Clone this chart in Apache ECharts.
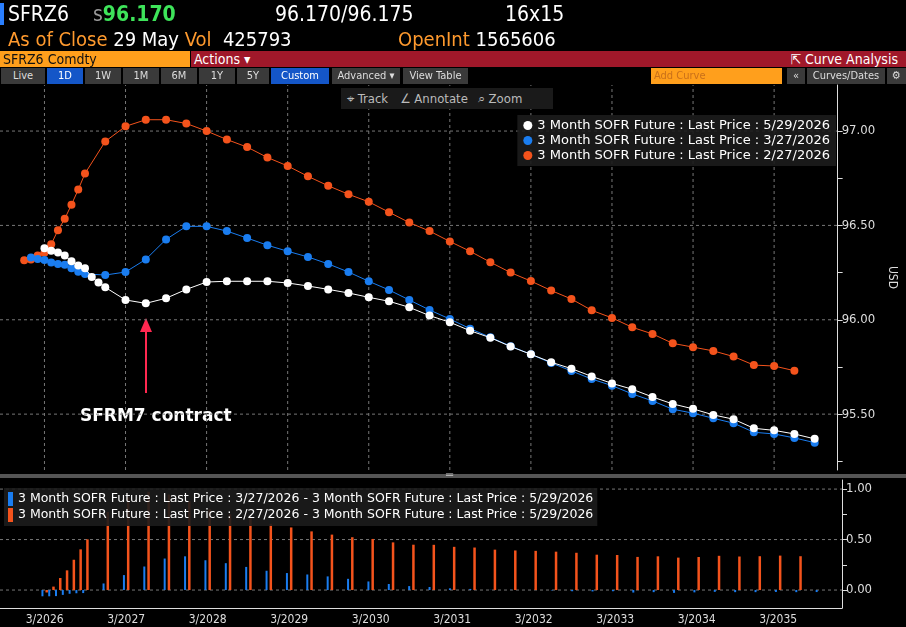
<!DOCTYPE html>
<html>
<head>
<meta charset="utf-8">
<script src="https://cdn.jsdelivr.net/npm/echarts@6/dist/echarts.min.js"></script>
<style>
  body { margin: 0; background: #000; font-family: "DejaVu Sans Condensed", "Liberation Sans Narrow", sans-serif; }
  #wrap { position: relative; width: 906px; height: 627px; overflow: hidden; }
  #chart { position: absolute; left: 0; top: 0; width: 906px; height: 627px; }
  .abs { position: absolute; white-space: nowrap; }
  .row1 { top: 2px; font-size: 21px; color: #fff; }
  .row2 { top: 27px; font-size: 20px; color: #fff; }
  .org { color: #ff9a2e; }
  .btn { position: absolute; top: 68px; height: 16px; background: #3a3a3a; color: #ddd; font-size: 11px; line-height: 16px; text-align: center; }
  .btn.on { background: #1456c8; color: #fff; }
  #tools { position: absolute; left: 341px; top: 88px; width: 212px; height: 21px; background: #1a1a1a; color: #bbb; font-size: 13px; line-height: 21px; }
</style>
</head>
<body>
<div id="wrap">
  <div id="chart"></div>

  <div class="abs" style="left:0;top:3px;width:4px;height:22px;background:#2a7fff"></div>
  <div class="abs row1" style="left:8px">SFRZ6</div>
  <div class="abs row1" style="left:93px;color:#999">s<b style="color:#3ee45a">96.170</b></div>
  <div class="abs row1" style="left:275px">96.170/96.175</div>
  <div class="abs row1" style="left:505px">16x15</div>
  <div class="abs row2" style="left:8px"><span class="org">As of Close</span> 29 May <span class="org">Vol</span>&nbsp; 425793</div>
  <div class="abs row2" style="left:398px"><span class="org">OpenInt</span> 1565606</div>

  <div class="abs" style="left:0;top:51px;width:190px;height:16px;background:#ff9f1c;color:#111;font-size:14px;line-height:16px;padding-left:3px;box-sizing:border-box">SFRZ6 Comdty</div>
  <div class="abs" style="left:191px;top:51px;width:715px;height:16px;background:#a0182a;color:#fff;font-size:14px;line-height:16px">
    <span style="margin-left:3px">Actions ▾</span>
    <span style="position:absolute;right:8px">⇱ Curve Analysis</span>
  </div>

  <div class="btn" style="left:1px;width:44px">Live</div>
  <div class="btn on" style="left:47px;width:36px">1D</div>
  <div class="btn" style="left:85px;width:36px">1W</div>
  <div class="btn" style="left:123px;width:36px">1M</div>
  <div class="btn" style="left:161px;width:36px">6M</div>
  <div class="btn" style="left:199px;width:36px">1Y</div>
  <div class="btn" style="left:237px;width:32px">5Y</div>
  <div class="btn on" style="left:271px;width:58px">Custom</div>
  <div class="btn" style="left:332px;width:68px">Advanced ▾</div>
  <div class="btn" style="left:403px;width:65px">View Table</div>
  <div class="btn" style="left:651px;width:131px;background:#ff9f1c;color:#c9701a;text-align:left;padding-left:3px;box-sizing:border-box">Add Curve</div>
  <div class="btn" style="left:787px;width:18px">«</div>
  <div class="btn" style="left:807px;width:78px">Curves/Dates</div>
  <div class="btn" style="left:887px;width:19px">⚙</div>

  <div id="tools"><span style="margin-left:6px">⌖ Track</span><span style="margin-left:12px">∠ Annotate</span><span style="margin-left:10px">⌕ Zoom</span></div>
</div>
<script>
// x values are months after 3/2026 (contract positions on the curve)
const orangeX = [-3, -2, -1, 0, 1, 2, 3, 4, 5, 6, 9, 12, 15, 18, 21, 24, 27, 30, 33, 36, 39, 42, 45, 48, 51, 54, 57, 60, 63, 66, 69, 72, 75, 78, 81, 84, 87, 90, 93, 96, 99, 102, 105, 108, 111];
const orangeY = [96.315, 96.32, 96.34, 96.355, 96.40, 96.475, 96.535, 96.61, 96.69, 96.775, 96.945, 97.025, 97.06, 97.06, 97.04, 97.0, 96.955, 96.915, 96.86, 96.815, 96.76, 96.71, 96.665, 96.625, 96.57, 96.515, 96.47, 96.415, 96.363, 96.305, 96.25, 96.205, 96.155, 96.11, 96.05, 96.01, 95.96, 95.925, 95.875, 95.855, 95.835, 95.805, 95.76, 95.755, 95.73];
const blueX = [-2, -1, 0, 1, 2, 3, 4, 5, 6, 9, 12, 15, 18, 21, 24, 27, 30, 33, 36, 39, 42, 45, 48, 51, 54, 57, 60, 63, 66, 69, 72, 75, 78, 81, 84, 87, 90, 93, 96, 99, 102, 105, 108, 111, 114];
const blueY = [96.33, 96.322, 96.317, 96.304, 96.296, 96.292, 96.273, 96.255, 96.243, 96.237, 96.253, 96.32, 96.426, 96.495, 96.495, 96.47, 96.433, 96.395, 96.363, 96.333, 96.296, 96.253, 96.204, 96.158, 96.105, 96.052, 96.004, 95.953, 95.907, 95.86, 95.817, 95.771, 95.729, 95.686, 95.651, 95.607, 95.57, 95.526, 95.505, 95.478, 95.452, 95.404, 95.395, 95.374, 95.349];
const whiteX = [0, 1, 2, 3, 4, 5, 6, 7, 8, 9, 12, 15, 18, 21, 24, 27, 30, 33, 36, 39, 42, 45, 48, 51, 54, 57, 60, 63, 66, 69, 72, 75, 78, 81, 84, 87, 90, 93, 96, 99, 102, 105, 108, 111, 114];
const whiteY = [96.379, 96.366, 96.356, 96.34, 96.31, 96.287, 96.273, 96.227, 96.197, 96.172, 96.105, 96.087, 96.114, 96.161, 96.2, 96.204, 96.204, 96.204, 96.195, 96.179, 96.161, 96.142, 96.119, 96.098, 96.066, 96.022, 95.987, 95.942, 95.905, 95.858, 95.817, 95.775, 95.741, 95.70, 95.663, 95.632, 95.591, 95.554, 95.528, 95.496, 95.473, 95.425, 95.414, 95.395, 95.369];

const yearTicks = [0, 12, 24, 36, 48, 60, 72, 84, 96, 108];
const priceLabels = [95.5, 96.0, 96.5, 97.0];
const priceTicks = [95.25, 95.5, 95.75, 96.0, 96.25, 96.5, 96.75, 97.0];
const diffLabels = [0, 0.5, 1.0];
const diffTicks = [0, 0.25, 0.5, 0.75, 1.0];

const legendMain = [
  "3 Month SOFR Future : Last Price : 5/29/2026",
  "3 Month SOFR Future : Last Price : 3/27/2026",
  "3 Month SOFR Future : Last Price : 2/27/2026"
];
const legendDiff = [
  "3 Month SOFR Future : Last Price : 3/27/2026 - 3 Month SOFR Future : Last Price : 5/29/2026",
  "3 Month SOFR Future : Last Price : 2/27/2026 - 3 Month SOFR Future : Last Price : 5/29/2026"
];

const WHITE = "#ffffff";
const BLUE = "#1a7df0";
const ORANGE = "#f4531c";
const GRIDLINE = { color: "#777777", type: [3, 3], width: 1, opacity: 1 };

function pairs(xs, ys) {
  return xs.map((x, i) => [x, ys[i]]);
}

// difference vs the 5/29 curve where both curves have a contract
function diffPairs(xs, ys) {
  const out = [];
  xs.forEach((x, i) => {
    const j = whiteX.indexOf(x);
    if (j >= 0) out.push([x, +(ys[i] - whiteY[j]).toFixed(3)]);
  });
  return out;
}

const font = "DejaVu Sans Condensed";
const legendFont = "DejaVu Sans";
const chart = echarts.init(document.getElementById("chart"));

// dashed grid lines as line series of two-point segments (null breaks them)
function hGrid(values, lo, hi) {
  const out = [];
  values.forEach((v) => { out.push([lo, v], [hi, v], null); });
  return out;
}
function vGrid(values, lo, hi) {
  const out = [];
  values.forEach((v) => { out.push([v, lo], [v, hi], null); });
  return out;
}
function gridSeries(data, xi, yi) {
  return {
    type: "line", xAxisIndex: xi, yAxisIndex: yi, data: data,
    symbol: "none", silent: true, connectNulls: false,
    lineStyle: GRIDLINE, z: 1, tooltip: { show: false }
  };
}

const X_MIN = -6.58, X_MAX = 117.4;
const Y_MIN = 95.204, Y_MAX = 97.244;

chart.setOption({
  backgroundColor: "#000",
  animation: false,
  textStyle: { fontFamily: font },
  grid: [
    { left: 0, right: 64, top: 85, height: 385 },
    { left: 0, right: 64, top: 480, height: 128 }
  ],
  xAxis: [
    {
      type: "value", gridIndex: 0, min: X_MIN, max: X_MAX,
      axisLine: { show: false }, axisTick: { show: false }, axisLabel: { show: false }, splitLine: { show: false }
    },
    {
      type: "value", gridIndex: 1, min: X_MIN, max: X_MAX,
      axisLine: { show: true, onZero: false, lineStyle: { color: "#ddd" } },
      axisTick: { show: false },
      splitLine: { show: false },
      axisLabel: {
        customValues: yearTicks,
        color: "#ddd",
        fontSize: 12,
        margin: 6,
        formatter: (v) => "3/" + (2026 + Math.round(v / 12))
      }
    }
  ],
  yAxis: [
    {
      type: "value", gridIndex: 0, position: "right",
      min: Y_MIN, max: Y_MAX,
      name: "USD", nameLocation: "middle", nameGap: 46, nameRotate: -90,
      nameTextStyle: { color: "#ddd", fontSize: 12 },
      axisLine: { show: true, onZero: false, lineStyle: { color: "#ddd" } },
      axisTick: { show: true, customValues: priceTicks, length: 5, lineStyle: { color: "#ddd" } },
      axisLabel: { customValues: priceLabels, color: "#ddd", fontSize: 13, margin: 4, formatter: (v) => v.toFixed(2) },
      splitLine: { show: false }
    },
    {
      type: "value", gridIndex: 1, position: "right",
      min: -0.178, max: 1.09,
      axisLine: { show: true, onZero: false, lineStyle: { color: "#ddd" } },
      axisTick: { show: true, customValues: diffTicks, length: 5, lineStyle: { color: "#ddd" } },
      axisLabel: { customValues: diffLabels, color: "#ddd", fontSize: 13, margin: 4, formatter: (v) => v.toFixed(2) },
      splitLine: { show: false }
    }
  ],
  legend: [
    {
      data: legendMain,
      orient: "vertical",
      right: 70, top: 115,
      icon: "circle", itemWidth: 9, itemHeight: 9, itemGap: 2,
      padding: [4, 6],
      backgroundColor: "rgba(28,28,28,0.9)",
      textStyle: { color: "#fff", fontSize: 13, fontFamily: legendFont },
      selectedMode: false
    },
    {
      data: legendDiff,
      orient: "vertical",
      left: 4, top: 488,
      icon: "rect", itemWidth: 5, itemHeight: 14, itemGap: 2,
      padding: [4, 4],
      backgroundColor: "rgba(28,28,28,0.9)",
      textStyle: { color: "#fff", fontSize: 12.5, fontFamily: legendFont },
      selectedMode: false
    }
  ],
  series: [
    gridSeries(vGrid(yearTicks, Y_MIN, Y_MAX), 0, 0),
    gridSeries(hGrid(priceLabels, X_MIN, X_MAX), 0, 0),
    gridSeries(hGrid(diffLabels, X_MIN, X_MAX), 1, 1),
    {
      name: legendMain[2], type: "line", xAxisIndex: 0, yAxisIndex: 0,
      data: pairs(orangeX, orangeY), color: ORANGE,
      symbol: "circle", symbolSize: 8, lineStyle: { width: 1 },
      z: 3
    },
    {
      name: legendMain[1], type: "line", xAxisIndex: 0, yAxisIndex: 0,
      data: pairs(blueX, blueY), color: BLUE,
      symbol: "circle", symbolSize: 8, lineStyle: { width: 1 },
      z: 4
    },
    {
      name: legendMain[0], type: "line", xAxisIndex: 0, yAxisIndex: 0,
      data: pairs(whiteX, whiteY), color: WHITE,
      symbol: "circle", symbolSize: 8, lineStyle: { width: 1 },
      z: 5
    },
    {
      name: legendDiff[0], type: "bar", xAxisIndex: 1, yAxisIndex: 1,
      data: diffPairs(blueX, blueY), color: BLUE,
      barWidth: 2, barGap: "100%"
    },
    {
      name: legendDiff[1], type: "bar", xAxisIndex: 1, yAxisIndex: 1,
      data: diffPairs(orangeX, orangeY), color: ORANGE,
      barWidth: 2.5, barGap: "100%"
    }
  ],
  graphic: [
    { type: "rect", shape: { x: 0, y: 474, width: 906, height: 4 }, style: { fill: "#555" } },
    { type: "text", x: 446, y: 470, style: { text: "═", fill: "#ccc", font: "10px sans-serif" } },
    { type: "line", shape: { x1: 146, y1: 393, x2: 146, y2: 330 }, style: { stroke: "#ff2850", lineWidth: 2 } },
    { type: "polygon", shape: { points: [[146, 318], [140, 332], [152, 332]] }, style: { fill: "#ff2850" } },
    { type: "text", x: 80, y: 408, style: { text: "SFRM7 contract", fill: "#fff", font: "bold 17px DejaVu Sans" } }
  ]
});
</script>
</body>
</html>
